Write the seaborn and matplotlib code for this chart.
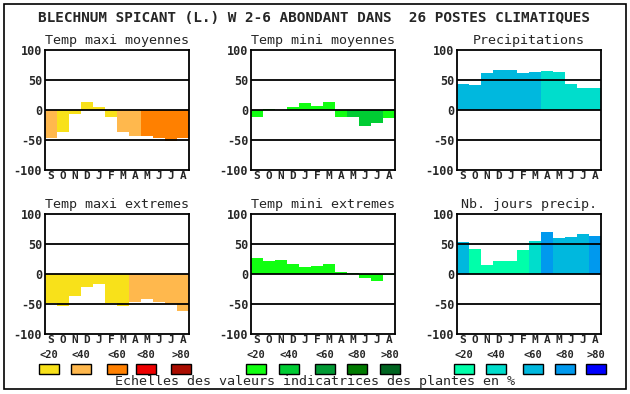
import matplotlib
matplotlib.use("Agg")
import matplotlib.pyplot as plt
from matplotlib.patches import Rectangle
import seaborn as sns
import pandas as pd

# ---------------- data ----------------
months = ["S", "O", "N", "D", "J", "F", "M", "A", "M", "J", "J", "A"]
title = "BLECHNUM SPICANT (L.) W 2-6 ABONDANT DANS  26 POSTES CLIMATIQUES"
panel_titles = ["Temp maxi moyennes", "Temp mini moyennes", "Precipitations",
                "Temp maxi extremes", "Temp mini extremes", "Nb. jours precip."]

tmax_moy = [-46, -37, -7, 14, 5, -11, -36, -44, -44, -46, -52, -47]
tmin_moy = [-11, 2, 0, 5, 12, 7, 14, -11, -11, -27, -22, -14]
precip = [44, 42, 61, 67, 67, 62, 64, 65, 64, 44, 36, 37]
tmax_ext = [-48, -53, -36, -21, -16, -48, -53, -46, -41, -46, -50, -61]
tmin_ext = [26, 22, 24, 17, 12, 14, 16, 4, 2, -6, -11, -2]
nb_jours = [54, 42, 15, 22, 22, 40, 55, 70, 60, 61, 67, 64]

# class index (0:<20, 1:<40, 2:<60, 3:<80, 4:>80) of each bar
tmax_moy_cls = [1, 0, 0, 0, 0, 0, 1, 1, 2, 2, 2, 2]
tmin_moy_cls = [0, 0, 0, 0, 0, 0, 0, 0, 1, 1, 1, 0]
precip_cls = [2, 2, 2, 2, 2, 2, 2, 1, 1, 1, 1, 1]
tmax_ext_cls = [0, 0, 0, 0, 0, 0, 0, 1, 1, 1, 1, 1]
tmin_ext_cls = [0] * 12
nb_jours_cls = [2, 0, 0, 0, 0, 0, 1, 3, 2, 2, 2, 3]

class_labels = ["<20", "<40", "<60", "<80", ">80"]
warm = ["#F8E11A", "#FFB84D", "#FF8000", "#EE0000", "#AA0D00"]
green = ["#11FF11", "#00CC33", "#009933", "#007A00", "#006420"]
blue = ["#00FFAA", "#00DDCC", "#00B8DE", "#0099EE", "#0000FF"]

series = [(tmax_moy, tmax_moy_cls, warm), (tmin_moy, tmin_moy_cls, green),
          (precip, precip_cls, blue), (tmax_ext, tmax_ext_cls, warm),
          (tmin_ext, tmin_ext_cls, green), (nb_jours, nb_jours_cls, blue)]

# ---------------- figure ----------------
sns.set_style("white")
plt.rcParams["font.family"] = ["DejaVu Sans Mono", "DejaVu Sans"]

W, H = 630, 394
fig = plt.figure(figsize=(W / 100, H / 100), dpi=100)
fig.patch.set_facecolor("white")

# outer frame
fig.patches.append(Rectangle((4 / W, 1 - 389 / H), 622 / W, 385 / H,
                             transform=fig.transFigure, fill=False,
                             edgecolor="black", linewidth=1.2))

fig.text(314 / W, 1 - 18 / H, title, ha="center", va="center",
         fontsize=10.4, fontweight="bold")

lefts = [45, 251, 457]
tops = [50, 214]
ids = [f"m{i}" for i in range(12)]

for k, (vals, cls, pal) in enumerate(series):
    r, c = divmod(k, 3)
    x0, y0 = lefts[c], tops[r]
    ax = fig.add_axes([x0 / W, 1 - (y0 + 120) / H, 144 / W, 120 / H])
    df = pd.DataFrame({"id": ids, "v": vals})
    palette = {i: pal[cl] for i, cl in zip(ids, cls)}
    sns.barplot(data=df, x="id", y="v", hue="id", palette=palette,
                legend=False, width=1.0, saturation=1, linewidth=0, ax=ax)
    ax.set_xlim(-0.5, 11.5)
    ax.set_ylim(-100, 100)
    for yv in (50, 0, -50):
        ax.axhline(yv, color="black", linewidth=1.3, zorder=5)
    ax.set_yticks([100, 50, 0, -50, -100])
    ax.set_yticklabels(["100", "50", "0", "-50", "-100"],
                       fontsize=8.5, fontweight="bold")
    ax.set_xticks(range(12))
    ax.set_xticklabels(months, fontsize=8, fontweight="bold")
    ax.tick_params(axis="y", length=0, pad=2)
    ax.tick_params(axis="x", length=0, pad=1)
    ax.set_xlabel("")
    ax.set_ylabel("")
    for sp in ax.spines.values():
        sp.set_visible(True)
        sp.set_color("black")
        sp.set_linewidth(1.3)
    ax.set_title(panel_titles[k], fontsize=9.6, pad=4)

# legend scales
box_x = [[39, 71, 107, 136, 171], [246, 279, 315, 347, 380], [454, 486, 523, 555, 586]]
for pal, xs in zip([warm, green, blue], box_x):
    for col, lab, bx in zip(pal, class_labels, xs):
        fig.patches.append(Rectangle((bx / W, 1 - 374 / H), 20 / W, 10 / H,
                                     transform=fig.transFigure, facecolor=col,
                                     edgecolor="black", linewidth=1))
        fig.text((bx + 10) / W, 1 - 355 / H, lab, ha="center", va="center",
                 fontsize=7.5, fontweight="bold")

fig.text(315 / W, 1 - 382 / H, "Echelles des valeurs indicatrices des plantes en %",
         ha="center", va="center", fontsize=9.6)

fig.savefig("out.png", dpi=100)
